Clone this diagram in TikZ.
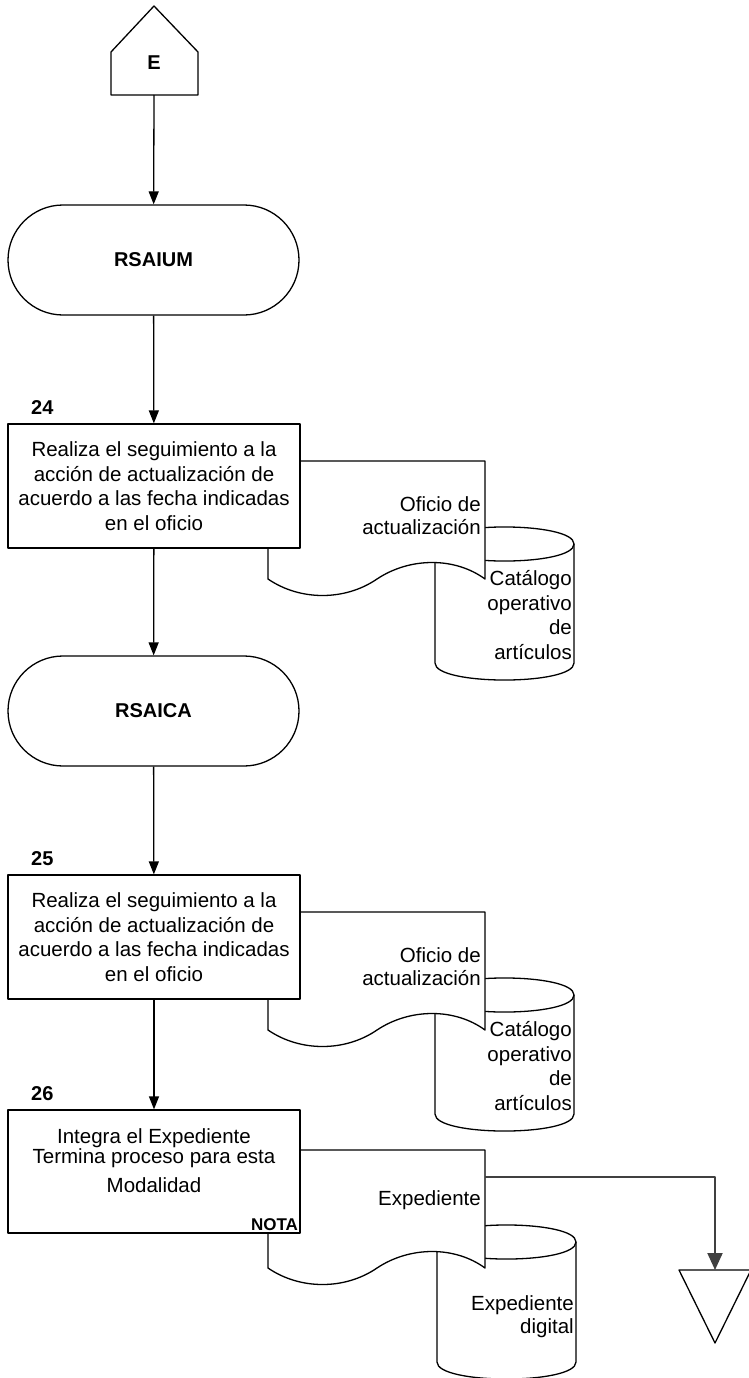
\documentclass[tikz,border=0pt]{standalone}
\usepackage{fontspec}
\setmainfont{Liberation Sans}
\usetikzlibrary{arrows.meta,shapes.misc,positioning}
\begin{document}
\begin{tikzpicture}[x=1pt,y=-1pt,line join=round,
	shp/.style={draw=black,fill=white,line width=1.3pt},
	flow/.style={line width=1.3pt,-{Triangle[length=13pt,width=10pt]}},
	flowgris/.style={draw=black!75,line width=2pt,-{Triangle[length=17pt,width=15pt]}},
	txt/.style={font=\fontsize{20.5}{24.5}\selectfont,align=center,inner sep=0pt},
	rtxt/.style={font=\fontsize{20.5}{23.5}\selectfont,align=right,inner sep=0pt,anchor=east},
	bold/.style={font=\fontsize{20}{24}\selectfont\bfseries,inner sep=0pt}]
	\useasboundingbox (0,0) rectangle (748,1378);
	% conector de entrada
	\draw[shp] (111,95)--(111,52)--(154,6)--(198,52)--(198,95)--cycle;
	\node[bold] (conE) at (154,63) {E};
	\coordinate (conEb) at (154,95);
	% tramos RSAIUM y RSAICA
	\foreach \n/\t/\d in {24/RSAIUM/0,25/RSAICA/451}{
		\begin{scope}[shift={(0,\d)}]
			\draw[shp] (435,544)--(435,663) .. controls (435,685.7) and (574,685.7) .. (574,663)--(574,544) .. controls (574,521.3) and (435,521.3) .. (435,544)--cycle;
			\draw[line width=1.3pt] (435,544) .. controls (435,566.7) and (574,566.7) .. (574,544);
			\node[rtxt,font=\fontsize{20.5}{24.7}\selectfont] (cat\n) at (572,615) {Catálogo\\operativo\\de\\artículos};
			\draw[shp] (268,461)--(485,461)--(485,579) .. controls (455,557) and (410,557) .. (377,579) .. controls (345,601) and (300,601) .. (268,579)--cycle;
			\node[rtxt] (of\n) at (481,515.5) {Oficio de\\actualización};
			\node[shp,rounded rectangle,minimum width=291pt,minimum height=110pt,bold] (t\n) at (153.5,260) {\t};
			\node[shp,txt,minimum width=292pt,minimum height=124pt] (b\n) at (154,486) {Realiza el seguimiento a la\\acción de actualización de\\acuerdo a las fecha indicadas\\en el oficio};
			\node[bold] (num\n) at ([xshift=35,yshift=16]b\n.north west) {\n};
		\end{scope}
	}
	% paso 26
	\draw[shp] (437,1242)--(437,1362) .. controls (437,1384.7) and (576,1384.7) .. (576,1362)--(576,1242) .. controls (576,1219.3) and (437,1219.3) .. (437,1242)--cycle;
	\draw[line width=1.3pt] (437,1242) .. controls (437,1264.7) and (576,1264.7) .. (576,1242);
	\node[rtxt] (expdig) at (574,1316.5) {Expediente\\digital};
	\draw[shp] (268,1150)--(485,1150)--(485,1268) .. controls (455,1246) and (410,1246) .. (377,1268) .. controls (345,1290) and (300,1290) .. (268,1268)--cycle;
	\node[rtxt] (exp) at (481,1200) {Expediente};
	\node[shp,minimum width=292pt,minimum height=123pt] (b26) at (154,1171.5) {};
	\node[txt,font=\fontsize{20.5}{20}\selectfont] (b26txt) at (154,1160.5) {Integra el Expediente\\Termina proceso para esta\\[9pt]Modalidad};
	\node[bold] (num26) at ([xshift=35,yshift=16]b26.north west) {26};
	\node[font=\fontsize{17}{17}\selectfont\bfseries,anchor=south east,inner sep=2.5pt] (nota) at (b26.south east) {NOTA};
	% fin
	\draw[line width=1.3pt] (679,1270)--(751,1270)--(715,1343)--cycle;
	\coordinate (expder) at (485,1177);
	\coordinate (fin) at (715,1270);
	% conectores
	\draw[flow] (conEb)--(t24);
	\draw[flow] (t24)--(b24);
	\draw[flow] (b24)--(t25);
	\draw[flow] (t25)--(b25);
	\draw[flow] (b25)--(b26);
	\draw[flowgris] (expder)-|(fin);
\end{tikzpicture}
\end{document}
